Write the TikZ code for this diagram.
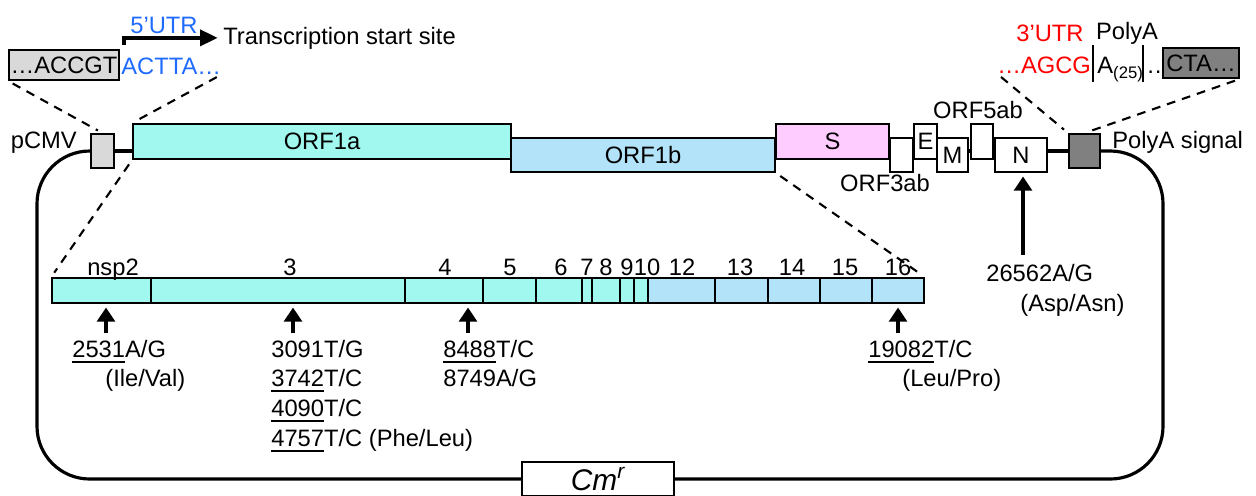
\documentclass[tikz,border=0pt]{standalone}
\usepackage{fontspec}
\setmainfont{Liberation Sans}
\usetikzlibrary{arrows.meta,backgrounds}
\definecolor{orfa}{HTML}{A0F8EE}
\definecolor{orfb}{HTML}{B3E3F8}
\definecolor{spike}{HTML}{FFCCFF}
\definecolor{utrblue}{HTML}{1F6BFF}
\definecolor{utrred}{HTML}{FF0000}
\definecolor{boxlight}{HTML}{D9D9D9}
\definecolor{boxdark}{HTML}{808080}
\newcommand\ulnum[1]{\setbox0\hbox{#1}\rlap{\rule[-3.6pt]{\wd0}{1.4pt}}\box0}
\begin{document}
\begin{tikzpicture}[x=0.02cm,y=-0.02cm,
  font=\fontsize{13.5}{16}\selectfont,
  seg/.style={draw,line width=1.1pt,inner sep=0pt},
  hi/.style={seg,minimum height=0.70cm},
  lo/.style={seg,minimum height=0.68cm},
  zoomline/.style={line width=1.2pt,dash pattern=on 5pt off 4pt,shorten <=3pt,shorten >=3pt},
  backbone/.style={line width=1.8pt,rounded corners=30pt},
  snp/.style={-{Triangle[width=10pt,length=8pt]},line width=2.6pt,shorten >=2pt},
  txt/.style={anchor=base west,inner sep=0pt}]
  \useasboundingbox (0,0) rectangle (1256,495);
  \node[lo,fill=boxlight,minimum width=0.46cm] (pcmv) at (102.5,151) {};
  \node[hi,fill=orfa,minimum width=7.56cm] (orf1a) at (322,141.5) {ORF1a};
  \node[lo,fill=orfb,minimum width=5.28cm] (orf1b) at (643,155) {ORF1b};
  \node[hi,fill=spike,minimum width=2.26cm] (s) at (832.5,141.5) {S};
  \node[lo,fill=white,minimum width=0.46cm] (orf3) at (901.5,155) {};
  \node[hi,fill=white,minimum width=0.46cm] (e) at (925.5,141.5) {E};
  \node[lo,fill=white,minimum width=0.62cm] (m) at (952.5,155) {M};
  \node[hi,fill=white,minimum width=0.44cm] (orf5) at (982,141.5) {};
  \node[lo,fill=white,minimum width=1.04cm] (n) at (1021,155) {N};
  \node[lo,fill=boxdark,minimum width=0.62cm] (pas) at (1084.5,151) {};
  \node[seg,fill=white,minimum width=3.04cm,minimum height=0.68cm,
    font=\fontsize{17}{19}\selectfont\itshape] (cmr) at (598,479) {Cm\textsuperscript{r}};
  \begin{scope}[on background layer]
    \draw[line width=1.8pt] (pcmv.east) -- (pas.west);
  \end{scope}
  \draw[backbone] (pcmv.west) -- (37,151) -- (37,479) -- (cmr.west);
  \draw[backbone] (cmr.east) -- (1163,479) -- (1163,151) -- (pas.east);
  \node[anchor=base east] (pcmvlbl) at (83,148) {pCMV};
  \node[txt] (paslbl) at (1112,148) {PolyA signal};
  \node[anchor=base] (orf5lbl) at (978,118) {ORF5ab};
  \node[anchor=base] (orf3lbl) at (885,191) {ORF3ab};

  \node[seg,fill=boxlight,minimum width=2.2cm,minimum height=0.6cm] (accgt) at (64,65) {…ACCGT};
  \node[txt,text=utrblue] (actta) at (121,74) {ACTTA…};
  \node[text=utrblue] (utr5) at (164,25) {5’UTR};
  \node[txt] (tss) at (223,44) {Transcription start site};
  \coordinate (tssfoot) at (124,45);
  \draw[line width=2.2pt,-{Triangle[width=9pt,length=10pt]},shorten >=3pt] (tssfoot) |- (tss.west);
  \draw[zoomline] (accgt.south west) -- (pcmv.north);
  \draw[zoomline] (actta.south east) -- (orf1a.north west);

  \node[text=utrred] (utr3) at (1050,33) {3’UTR};
  \node (polya) at (1127,33) {PolyA};
  \node[txt,text=utrred] (agcg) at (997,73) {…AGCG};
  \node[txt] (a25) at (1097,73) {A\raisebox{-3pt}{\fontsize{9.5}{10}\selectfont(25)}};
  \node[txt] (dots) at (1146,73) {…};
  \node[seg,fill=boxdark,minimum width=1.52cm,minimum height=0.6cm] (cta) at (1201,63) {CTA…};
  \draw[line width=1.3pt] (1093,45) -- (1093,82);
  \draw[line width=1.3pt] (1143,45) -- (1143,82);
  \draw[zoomline] (agcg.south west) -- (pas.north west);
  \draw[zoomline] (cta.south east) -- (pas.north);

  \foreach \nm/\a/\b/\col in {n2/52/151/orfa,n3/151/405/orfa,n4/405/483/orfa,n5/483/536/orfa,
    n6/536/582/orfa,n7/582/592/orfa,n8/592/620/orfa,n9/620/634/orfa,n10/634/648/orfa,
    n12/648/715/orfb,n13/715/768/orfb,n14/768/820/orfb,n15/820/872/orfb,n16/872/924/orfb}
    \node[seg,fill=\col,minimum height=0.5cm,minimum width={(\b-\a)*0.5669pt}] (\nm) at ({(\a+\b)/2},290.5) {};
  \foreach \t/\x in {nsp2/113,3/290,4/445,5/510,6/561,7/587,8/606,9/627,10/647,
    12/682,13/740,14/792,15/845,16/898}
    \node[anchor=base,inner sep=0pt] (l\t) at (\x,275) {\t};
  \draw[zoomline] (orf1a.south west) -- (n2.north west);
  \draw[zoomline] (orf1b.south east) -- (n16.north east);

  \foreach \x/\nm in {106/n2,293/n3,468/n4,898/n16} {
    \coordinate (s\nm) at (\x,333);
    \draw[snp] (s\nm) -- (s\nm |- \nm.south);
  }
  \coordinate (sn) at (1023,255);
  \draw[snp] (sn) -- (sn |- n.south);

  \node[txt] (m2531) at (72,357) {\ulnum{2531}A/G};
  \node[txt] (p2531) at (105,386) {(Ile/Val)};
  \node[txt] (m3091) at (271,357) {3091T/G};
  \node[txt] (m3742) at (271,386) {\ulnum{3742}T/C};
  \node[txt] (m4090) at (271,416) {\ulnum{4090}T/C};
  \node[txt] (m4757) at (271,446) {\ulnum{4757}T/C (Phe/Leu)};
  \node[txt] (m8488) at (443,357) {\ulnum{8488}T/C};
  \node[txt] (m8749) at (443,386) {8749A/G};
  \node[txt] (m19082) at (868,357) {\ulnum{19082}T/C};
  \node[txt] (p19082) at (902,386) {(Leu/Pro)};
  \node[txt] (m26562) at (986,281) {26562A/G};
  \node[txt] (p26562) at (1020,311) {(Asp/Asn)};
\end{tikzpicture}
\end{document}
